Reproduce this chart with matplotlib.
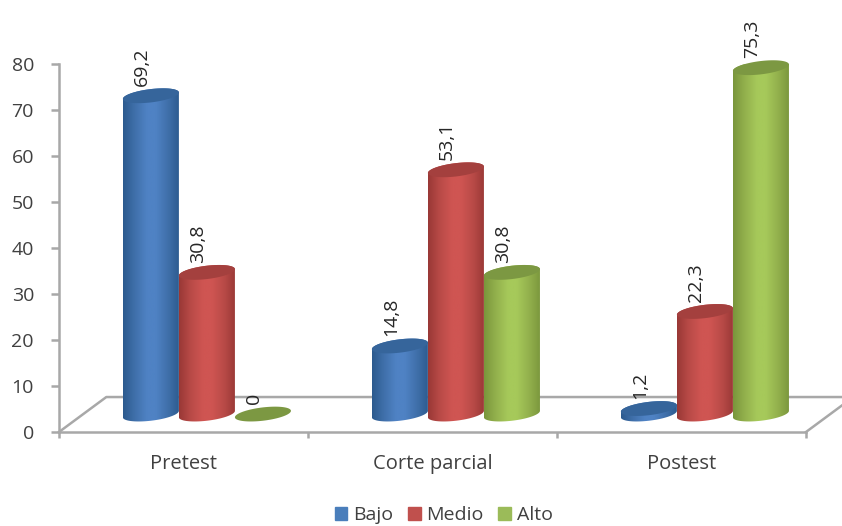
import numpy as np
import matplotlib
matplotlib.use('Agg')
from matplotlib import pyplot as plt
from matplotlib.colors import LinearSegmentedColormap
from matplotlib.patches import Patch, Polygon

categories = ['Pretest', 'Corte parcial', 'Postest']
bajo = [69.2, 14.8, 1.2]
medio = [30.8, 53.1, 22.3]
alto = [0, 30.8, 75.3]
series_names = ['Bajo', 'Medio', 'Alto']
yticks = [0, 10, 20, 30, 40, 50, 60, 70, 80]

# edge, shoulder, centre, lid, legend colours per series
styles = [('#2c5a8e', '#3f6fa9', '#4f82c4', '#36659b', '#4a7ebb'),
          ('#993836', '#b84a47', '#cf5552', '#a4403e', '#c0504d'),
          ('#7a963c', '#92b04c', '#a6c95a', '#7c9842', '#9bbb59')]

plt.rcParams['font.family'] = ['Open Sans', 'DejaVu Sans']
text_color = '#404040'
axis_color = '#a8a8a8'

# floor depth and where the cylinders stand on it
depth_x, depth_y = 0.19, 7.6
base = 3.9
shift_x = 0.094
bar_w = 0.225
ell_h = 1.45
tilt = 0.7


def ellipse_xy(cx, cy, t):
    return cx + bar_w / 2 * np.cos(t), cy + ell_h * np.sin(t) + tilt * np.cos(t)


def cylinder(ax, cx, value, style):
    edge, shoulder, centre, lid, _ = style
    top = base + value
    t_low = np.linspace(0, -np.pi, 60)
    t_up = np.linspace(np.pi, 0, 60)
    t_all = np.linspace(0, 2 * np.pi, 120)
    if value > 0:
        bx, by = ellipse_xy(cx, base, t_low)
        tx, ty = ellipse_xy(cx, top, t_up)
        body = Polygon(np.column_stack([np.r_[bx, tx], np.r_[by, ty]]),
                       closed=True, transform=ax.transData, fc='none', ec='none')
        ax.add_patch(body)
        cmap = LinearSegmentedColormap.from_list(
            'c', [(0, edge), (0.2, shoulder), (0.42, centre), (0.58, centre), (0.8, shoulder), (1, edge)])
        im = ax.imshow(np.linspace(0, 1, 128).reshape(1, -1), cmap=cmap, aspect='auto',
                       extent=(cx - bar_w / 2, cx + bar_w / 2, base - 4, top + 4),
                       zorder=2, clip_on=True)
        im.set_clip_path(body)
    lx, ly = ellipse_xy(cx, top, t_all)
    ax.fill(lx, ly, color=lid, lw=0, zorder=2, clip_on=False)


fig = plt.figure(figsize=(8.42, 5.26), dpi=100)
ax = fig.add_axes([59 / 842, 1 - 432 / 526, 747 / 842, 368 / 526])

# floor outline behind the bars
ax.plot([0, depth_x, 3.145], [0, depth_y, depth_y], color=axis_color, lw=1.8, zorder=1, clip_on=False)
ax.plot([3, 3 + depth_x], [0, depth_y], color=axis_color, lw=1.8, zorder=1, clip_on=False)

for i, vals in enumerate([bajo, medio, alto]):
    for j, v in enumerate(vals):
        cx = j + 0.5 + shift_x + (i - 1) * bar_w
        cylinder(ax, cx, v, styles[i])
        ax.annotate(str(v).replace('.', ','), (cx, base + v), xytext=(-6.5, 7),
                    textcoords='offset points', rotation=90, ha='center', va='bottom',
                    fontsize=14, color='#262626', zorder=3, annotation_clip=False)

ax.set_xlim(0, 3)
ax.set_ylim(0, 80)
ax.set_xticks([0, 1, 2, 3])
ax.set_xticklabels([])
ax.set_xticks([0.5, 1.5, 2.5], categories, minor=True)
ax.set_yticks(yticks)
ax.tick_params(axis='x', which='major', length=4.5, width=1.8, color=axis_color)
ax.tick_params(axis='x', which='minor', length=0, pad=15.5, labelsize=14.5, labelcolor=text_color)
ax.tick_params(axis='y', length=5.5, width=1.8, color=axis_color, pad=12.5, labelsize=14, labelcolor=text_color)
for side in ['top', 'right']:
    ax.spines[side].set_visible(False)
for side in ['left', 'bottom']:
    ax.spines[side].set_color(axis_color)
    ax.spines[side].set_linewidth(1.8)

handles = [Patch(color=styles[i][4], label=series_names[i]) for i in range(3)]
fig.legend(handles=handles, loc='lower center', bbox_to_anchor=(0.527, -0.03), ncol=3, frameon=False,
           fontsize=14, labelcolor=text_color, handlelength=0.65, handleheight=0.65,
           handletextpad=0.3, columnspacing=0.75)

fig.savefig('out.png', dpi=100)
